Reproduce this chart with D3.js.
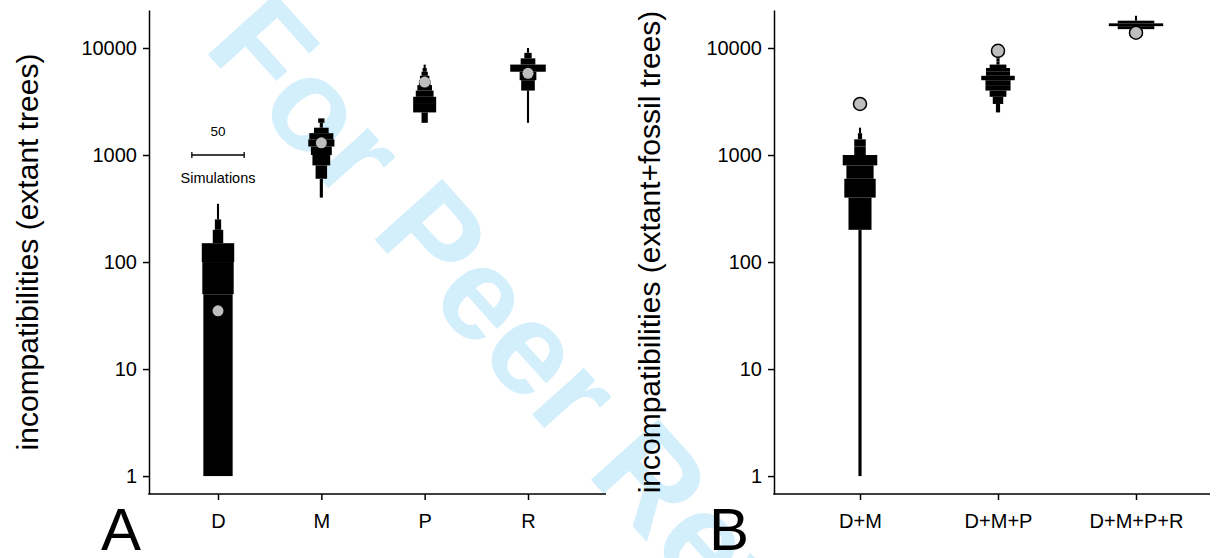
<!DOCTYPE html>
<html>
<head>
<meta charset="utf-8">
<script src="https://cdn.jsdelivr.net/npm/d3@7"></script>
<style>
  body { margin: 0; background: #fff; }
  svg { display: block; font-family: "Liberation Sans", Arial, sans-serif; }
</style>
</head>
<body>
<div id="chart"></div>
<script>
// categories
const catsA = ["D", "M", "P", "R"];
const catsB = ["D+M", "D+M+P", "D+M+P+R"];
const yTicks = [1, 10, 100, 1000, 10000];

// histogram bins per category: [low, high, number of simulations]
const binsD = [[0, 50, 28], [50, 100, 30], [100, 150, 31], [150, 200, 10], [200, 250, 6], [250, 350, 2]];
const binsM = [[400, 600, 3], [600, 800, 11], [800, 1000, 17], [1000, 1200, 20], [1200, 1400, 25],
  [1400, 1600, 23], [1600, 1800, 14], [1800, 2000, 3], [2000, 2200, 6]];
const binsP = [[2000, 2500, 6], [2500, 3000, 22], [3000, 3500, 22], [3500, 4000, 17], [4000, 4500, 14],
  [4500, 5000, 11], [5000, 5500, 9], [5500, 6000, 6], [6000, 6500, 4], [6500, 7000, 2]];
const binsR = [[2000, 3000, 2], [3000, 4000, 2], [4000, 5000, 13], [5000, 6000, 16], [6000, 7000, 34],
  [7000, 8000, 14], [8000, 9000, 7], [9000, 10000, 2]];
const binsDM = [[0, 200, 3], [200, 400, 22], [400, 600, 30], [600, 800, 26], [800, 1000, 33],
  [1000, 1200, 11], [1200, 1400, 11], [1400, 1600, 4], [1600, 1800, 2]];
const binsDMP = [[2500, 3000, 4], [3000, 3500, 10], [3500, 4000, 16], [4000, 4500, 24], [4500, 5000, 24],
  [5000, 5500, 32], [5500, 6000, 23], [6000, 6500, 23], [6500, 7000, 16], [7000, 7500, 3],
  [7500, 8000, 3], [8000, 8500, 3]];
const binsDMPR = [[15000, 16000, 35], [16000, 17000, 52], [17000, 18000, 35], [18000, 20000, 2]];

// observed incompatibilities
const observedA = [35, 1300, 4800, 5800];
const observedB = [3000, 9400, 13900];

const W = 1217, H = 558;
const plotTop = 10, plotBottom = 494;

const svg = d3.select("#chart").append("svg")
  .attr("width", W).attr("height", H);

// watermark
svg.append("text")
  .attr("transform", "translate(202,48) rotate(48)")
  .attr("font-size", 132)
  .attr("font-weight", "bold")
  .attr("fill", "#d4effc")
  .text("For Peer Review");

const y = d3.scaleLog().domain([0.68, 22650]).range([plotBottom, plotTop]);
const simWidth = d3.scaleLinear().domain([0, 50]).range([0, 52.3]);

function panel(opts) {
  const { cats, bins, observed, left, right, xRange, title, titleX, letter, letterX, strokePts, r } = opts;
  const x = d3.scalePoint().domain(cats).range(xRange);
  const g = svg.append("g");

  // violins as stacked histogram bars
  cats.forEach((c, i) => {
    g.selectAll(null)
      .data(bins[i])
      .enter()
      .append("rect")
      .attr("x", (d) => x(c) - simWidth(d[2]) / 2)
      .attr("width", (d) => simWidth(d[2]))
      .attr("y", (d) => y(d[1]))
      .attr("height", (d) => y(Math.max(d[0], 1)) - y(d[1]))
      .attr("fill", "#000");
  });

  // observed values
  g.selectAll(null)
    .data(observed)
    .enter()
    .append("circle")
    .attr("cx", (d, i) => x(cats[i]))
    .attr("cy", (d) => y(d))
    .attr("r", r)
    .attr("fill", "#bebebe")
    .attr("stroke", strokePts ? "#000" : "none")
    .attr("stroke-width", 1.5);

  // y axis
  const yAxis = d3.axisLeft(y)
    .tickValues(yTicks)
    .tickFormat(d3.format("d"))
    .tickSizeInner(6)
    .tickSizeOuter(0)
    .tickPadding(6);

  const ya = g.append("g")
    .attr("transform", `translate(${left},0)`)
    .call(yAxis);
  ya.selectAll("text").attr("font-size", 20).attr("fill", "#000").attr("font-family", "Liberation Sans, Arial, sans-serif");
  ya.selectAll("line, path").attr("stroke", "#000").attr("stroke-width", 1.5);

  // x axis
  const xAxis = d3.axisBottom(x).tickSizeInner(6).tickSizeOuter(0).tickPadding(14);
  const xa = g.append("g")
    .attr("transform", `translate(0,${plotBottom})`)
    .call(xAxis);
  xa.select(".domain").remove();
  xa.selectAll("text").attr("font-size", 20).attr("fill", "#000").attr("font-family", "Liberation Sans, Arial, sans-serif");
  xa.selectAll("line").attr("stroke", "#000").attr("stroke-width", 1.5);
  g.append("line")
    .attr("x1", left - 0.75).attr("x2", right)
    .attr("y1", plotBottom).attr("y2", plotBottom)
    .attr("stroke", "#000").attr("stroke-width", 1.5);

  // y title
  g.append("text")
    .attr("transform", `translate(${titleX},${(plotTop + plotBottom) / 2}) rotate(-90)`)
    .attr("text-anchor", "middle")
    .attr("font-size", 30)
    .attr("fill", "#000")
    .text(title);

  // panel letter
  g.append("text")
    .attr("x", letterX).attr("y", 550)
    .attr("text-anchor", "middle")
    .attr("font-size", 60)
    .attr("fill", "#000")
    .text(letter);

  return x;
}

const xA = panel({
  cats: catsA, bins: [binsD, binsM, binsP, binsR], observed: observedA,
  left: 149, right: 606, xRange: [218, 528],
  title: "incompatibilities (extant trees)", titleX: 38,
  letter: "A", letterX: 121, strokePts: false, r: 5.5
});

panel({
  cats: catsB, bins: [binsDM, binsDMP, binsDMPR], observed: observedB,
  left: 774, right: 1210, xRange: [860, 1136],
  title: "incompatibilities (extant+fossil trees)", titleX: 660,
  letter: "B", letterX: 729, strokePts: true, r: 6.5
});

// scale bar for simulation counts
const sb = svg.append("g").attr("transform", `translate(${xA("D")},155)`);
sb.append("line")
  .attr("x1", -simWidth(50) / 2).attr("x2", simWidth(50) / 2)
  .attr("stroke", "#000").attr("stroke-width", 1.3);
[-1, 1].forEach((s) => {
  sb.append("line")
    .attr("x1", s * simWidth(50) / 2).attr("x2", s * simWidth(50) / 2)
    .attr("y1", -3).attr("y2", 3)
    .attr("stroke", "#000").attr("stroke-width", 1.3);
});
sb.append("text").attr("y", -19).attr("text-anchor", "middle").attr("font-size", 13.5).text("50");
sb.append("text").attr("y", 28).attr("text-anchor", "middle").attr("font-size", 14.5).text("Simulations");
</script>
</body>
</html>
